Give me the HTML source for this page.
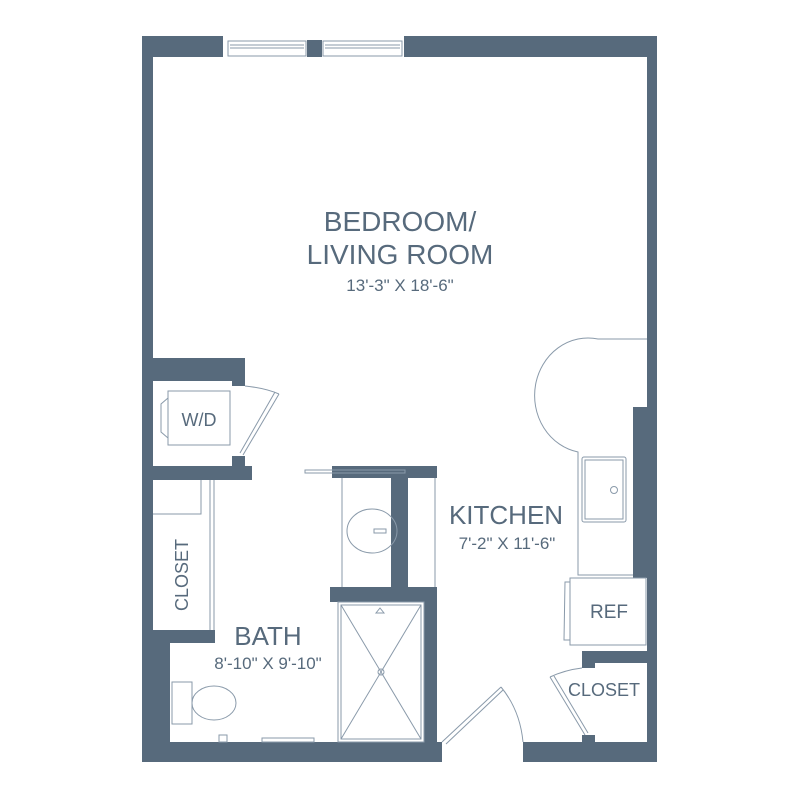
<!DOCTYPE html>
<html><head><style>body{margin:0;background:#fff}svg{display:block}text{font-family:"Liberation Sans",sans-serif;fill:#576a7c}</style></head>
<body>
<svg width="800" height="800" viewBox="0 0 800 800" xmlns="http://www.w3.org/2000/svg">
<g fill="#576a7c">
<rect x="142" y="36" width="81" height="21"/>
<rect x="307" y="40" width="15" height="17"/>
<rect x="404" y="36" width="253" height="21"/>
<rect x="142" y="36" width="11" height="726"/>
<rect x="647" y="36" width="10" height="726"/>
<rect x="633" y="407" width="24" height="171"/>
<rect x="142" y="742" width="300" height="20"/>
<rect x="523" y="742" width="134" height="20"/>
<rect x="142" y="630" width="28" height="132"/>
<rect x="153" y="358" width="92" height="23"/>
<rect x="232" y="358" width="13" height="28"/>
<rect x="153" y="466" width="99" height="14"/>
<rect x="232" y="456" width="13" height="12"/>
<rect x="153" y="630" width="62" height="13"/>
<rect x="332" y="466" width="105" height="12"/>
<rect x="391" y="478" width="17" height="110"/>
<rect x="330" y="587" width="107" height="15"/>
<rect x="424" y="587" width="13" height="175"/>
<rect x="582" y="651" width="75" height="12"/>
<rect x="582" y="651" width="13" height="17"/>
<rect x="582" y="735" width="13" height="8"/>
</g>
<g fill="none" stroke="#8a9aaa" stroke-width="1">
<rect x="228" y="41" width="78" height="15"/><line x1="230" y1="45" x2="304" y2="45"/><line x1="230" y1="48" x2="304" y2="48"/>
<rect x="323" y="41" width="79" height="15"/><line x1="325" y1="45" x2="400" y2="45"/><line x1="325" y1="48" x2="400" y2="48"/>
<rect x="168" y="391" width="62" height="54"/>
<path d="M168 398 L161 404 L161 432 L168 438"/>
<path d="M245 386 Q265 388 279 394"/>
<path d="M279 394 L243 455 M275 392 L240 453"/>
<path d="M210 480 V630 M214 480 V630"/>
<path d="M153 514 H201 V480"/>
<rect x="305" y="470" width="100" height="3"/>
<line x1="342" y1="478" x2="342" y2="587"/>
<line x1="435" y1="478" x2="435" y2="587"/>
<ellipse cx="372" cy="531" rx="25" ry="22"/>
<rect x="374" y="529" width="12" height="4"/>
<rect x="338" y="602" width="86" height="140"/>
<rect x="341" y="605" width="80" height="134"/>
<path d="M341 605 L421 739 M421 605 L341 739"/>
<path d="M380 608 L376 613 H384 Z"/>
<circle cx="381" cy="672" r="3"/>
<rect x="172" y="682" width="20" height="42"/>
<ellipse cx="214" cy="703" rx="22" ry="17"/>
<rect x="219" y="735" width="8" height="7"/>
<rect x="262" y="738" width="52" height="4"/>
<path d="M647 339 H598 A52 56 0 0 0 578 452 V575 H633"/>
<rect x="582" y="457" width="44" height="65" rx="2"/>
<rect x="585" y="460" width="38" height="59"/>
<circle cx="614" cy="490" r="3.5"/>
<rect x="570" y="578" width="76" height="67"/>
<path d="M570 582 H565 L564 640 H570"/>
<path d="M442 742 L501 687 M446 744 L503 690"/>
<path d="M501 687 Q520 710 523 742"/>
<path d="M550 677 Q565 670 582 668"/>
<path d="M550 677 L585 735 M554 676 L588 733"/>
</g>
<text x="400" y="231" font-size="28" text-anchor="middle">BEDROOM/</text>
<text x="400" y="264" font-size="28" text-anchor="middle">LIVING ROOM</text>
<text x="400" y="291" font-size="17" text-anchor="middle">13'-3" X 18'-6"</text>
<text x="506" y="524" font-size="26" text-anchor="middle">KITCHEN</text>
<text x="507" y="549" font-size="17" text-anchor="middle">7'-2" X 11'-6"</text>
<text x="268" y="645" font-size="26" text-anchor="middle">BATH</text>
<text x="268" y="669" font-size="17" text-anchor="middle">8'-10" X 9'-10"</text>
<text x="199" y="426" font-size="18" text-anchor="middle">W/D</text>
<text x="609" y="618" font-size="19" text-anchor="middle">REF</text>
<text x="604" y="696" font-size="18" text-anchor="middle">CLOSET</text>
<text transform="translate(188 575) rotate(-90)" font-size="18" text-anchor="middle">CLOSET</text>
</svg>
</body></html>
